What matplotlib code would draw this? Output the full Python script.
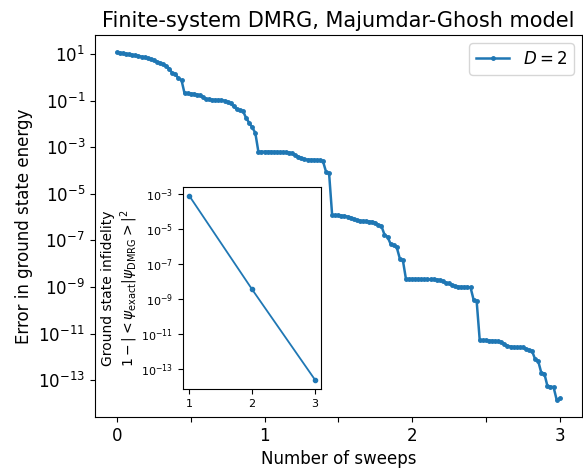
import matplotlib
matplotlib.use("Agg")
import matplotlib.pyplot as plt
import numpy as np

steps_per_sweep = 48
log10_err = [
    # first half sweep
    1.07, 1.05, 1.03, 1.01, 0.99, 0.96, 0.94, 0.92, 0.89, 0.86, 0.82, 0.78,
    0.73, 0.68, 0.62, 0.56, 0.49, 0.38, 0.18, 0.14, -0.04, -0.12,
    -0.69, -0.69, -0.70, -0.71, -0.74, -0.77, -0.85, -0.93, -0.95, -0.96,
    -0.97, -0.97, -0.98, -1.00, -1.05, -1.12, -1.25, -1.37, -1.42, -1.45,
    -1.74, -1.95, -2.15, -2.38,
    -3.19, -3.19, -3.19, -3.19, -3.19, -3.20, -3.20, -3.21, -3.21, -3.22,
    -3.23, -3.26, -3.35, -3.40, -3.47, -3.52, -3.53, -3.54, -3.54, -3.55,
    -3.56, -3.60, -4.05, -4.12,
    -5.93, -5.93, -5.93, -5.94, -5.95, -5.98, -6.02, -6.08, -6.13, -6.16,
    -6.17, -6.18, -6.19, -6.20, -6.24, -6.33, -6.38, -6.75, -6.85, -7.15,
    -7.22, -7.30, -7.78, -7.86,
    -8.66, -8.66, -8.66, -8.66, -8.66, -8.67, -8.67, -8.67, -8.68, -8.68,
    -8.69, -8.70, -8.76, -8.82, -8.85, -8.92, -8.97, -8.99, -9.00, -9.00,
    -9.00, -9.02, -9.55, -9.62,
    -11.30, -11.30, -11.30, -11.31, -11.31, -11.32, -11.34, -11.37, -11.45,
    -11.53, -11.56, -11.58, -11.59, -11.59, -11.60, -11.65, -11.72, -11.75,
    -12.10, -12.18, -12.68, -12.72, -13.25, -13.28, -13.30, -13.84, -13.78,
]

# inset: infidelity after each sweep
inset_sweeps = [1, 2, 3]
infidelity = [7.4e-4, 3.4e-9, 2.4e-14]

sweeps = np.arange(len(log10_err)) / steps_per_sweep
energy_err = 10.0 ** np.array(log10_err)

fig = plt.figure(figsize=(5.83, 4.68), dpi=100)
ax = fig.add_axes([0.1626, 0.109, 0.8354, 0.816])
ax.plot(sweeps, energy_err, marker="o", ms=2.5, lw=1.8, color="#1f77b4", label="$D=2$")
ax.set_yscale("log")
ax.set_yticks([10.0 ** k for k in range(1, -14, -2)])
ax.yaxis.set_minor_locator(matplotlib.ticker.NullLocator())
ax.set_xticks([0, 1, 2, 3])
ax.set_xticks([0.5, 1.5, 2.5], minor=True)
ax.tick_params(which="minor", length=3.5, width=0.8)
ax.tick_params(labelsize=12)
ax.set_xlabel("Number of sweeps", fontsize=12)
ax.set_ylabel("Error in ground state energy", fontsize=12)
ax.set_title("Finite-system DMRG, Majumdar-Ghosh model", fontsize=15)
ax.legend(loc="upper right", fontsize=12)

ins = fig.add_axes([0.314, 0.169, 0.237, 0.432])
ins.plot(inset_sweeps, infidelity, marker="o", ms=3, lw=1.3, color="#1f77b4")
ins.set_yscale("log")
ins.set_yticks([10.0 ** k for k in range(-3, -14, -2)])
ins.yaxis.set_minor_locator(matplotlib.ticker.NullLocator())
ins.set_xticks(inset_sweeps)
ins.tick_params(labelsize=8)
ins.set_ylabel("Ground state infidelity\n"
               r"$1-\left|<\psi_{\rm exact}|\psi_{\rm DMRG}>\right|^2$",
               fontsize=10, labelpad=1)

fig.savefig("out.png", dpi=100)
